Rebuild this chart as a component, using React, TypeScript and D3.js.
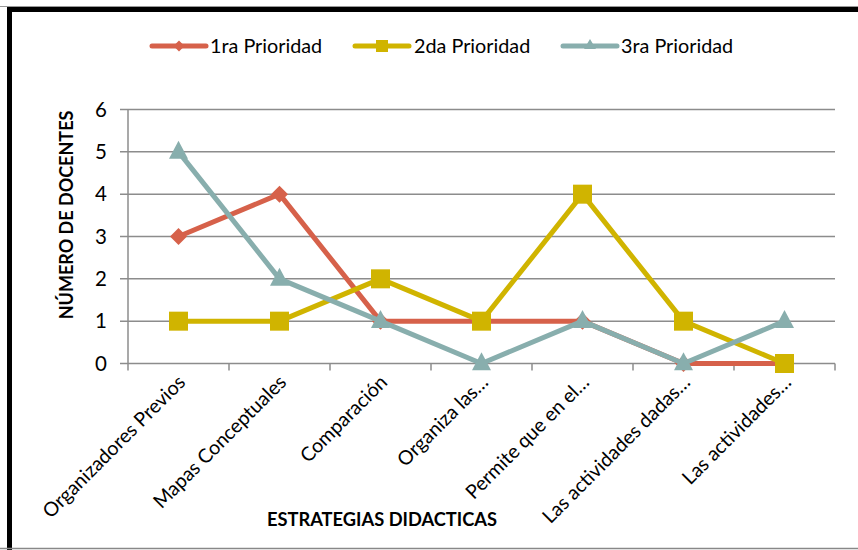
import React from "react";
import * as d3 from "d3";

const categories = [
  "Organizadores Previos",
  "Mapas Conceptuales",
  "Comparación",
  "Organiza las…",
  "Permite que en el…",
  "Las actividades dadas…",
  "Las actividades…",
];
const serie1 = [3, 4, 1, 1, 1, 0, 0];
const serie2 = [1, 1, 2, 1, 4, 1, 0];
const serie3 = [5, 2, 1, 0, 1, 0, 1];
const seriesNames = ["1ra Prioridad", "2da Prioridad", "3ra Prioridad"];
const yTicks = [0, 1, 2, 3, 4, 5, 6];

const colors = ["#D6614A", "#D0B400", "#88AEAD"];
const markers = ["diamond", "square", "triangle"];
const FONT = "Lato, 'Open Sans', sans-serif";

function Marker({ type, x, y, color }: { type: string; x: number; y: number; color: string }) {
  if (type === "diamond") {
    const s = 8.5;
    return <path d={`M${x},${y - s}L${x + s},${y}L${x},${y + s}L${x - s},${y}Z`} fill={color} />;
  }
  if (type === "square") {
    const s = 9.5;
    return <rect x={x - s} y={y - s} width={2 * s} height={2 * s} fill={color} />;
  }
  const h = 18;
  const w = 19;
  return <path d={`M${x},${y - h * 0.62}L${x + w / 2},${y + h * 0.38}L${x - w / 2},${y + h * 0.38}Z`} fill={color} />;
}

function LegendMarker({ type, x, y, color }: { type: string; x: number; y: number; color: string }) {
  if (type === "diamond") {
    const s = 5.5;
    return <path d={`M${x},${y - s}L${x + s},${y}L${x},${y + s}L${x - s},${y}Z`} fill={color} />;
  }
  if (type === "square") {
    const s = 6;
    return <rect x={x - s} y={y - s} width={2 * s} height={2 * s} fill={color} />;
  }
  return <path d={`M${x},${y - 7}L${x + 6},${y + 3}L${x - 6},${y + 3}Z`} fill={color} />;
}

export default function App() {
  const W = 858;
  const H = 550;
  const left = 128;
  const right = 835;
  const top = 109.5;
  const bottom = 363.5;

  const x = d3.scaleBand<string>().domain(categories).range([left, right]).padding(0);
  const y = d3.scaleLinear().domain([0, 6]).range([bottom, top]);
  const cx = (c: string) => (x(c) as number) + x.bandwidth() / 2;

  const allSeries = [serie1, serie2, serie3];
  const line = d3
    .line<number>()
    .x((_, i) => cx(categories[i]))
    .y((d) => y(d));

  const legendItems = [
    { lx: 152, tx: 210 },
    { lx: 355, tx: 414 },
    { lx: 563, tx: 621 },
  ];

  const tickXs = d3.range(categories.length + 1).map((i) => left + i * x.bandwidth());

  return (
    <svg width={W} height={H} style={{ position: "absolute", left: 0, top: 0 }} fontFamily={FONT}>
      <rect x={0} y={0} width={W} height={H} fill="#fff" />
      {/* frame */}
      <line x1={0} y1={6.5} x2={W} y2={6.5} stroke="#999" strokeWidth={1} />
      <rect x={7} y={7} width={W - 7} height={5} fill="#000" />
      <rect x={7} y={7} width={5} height={H - 7} fill="#000" />
      <line x1={0} y1={548.5} x2={W} y2={548.5} stroke="#888" strokeWidth={1.5} />

      {/* legend */}
      {seriesNames.map((n, i) => (
        <g key={n}>
          <line
            x1={legendItems[i].lx}
            x2={legendItems[i].lx + 54}
            y1={46}
            y2={46}
            stroke={colors[i]}
            strokeWidth={5}
            strokeLinecap="round"
          />
          <LegendMarker type={markers[i]} x={legendItems[i].lx + 27} y={46} color={colors[i]} />
          <text x={legendItems[i].tx} y={52.5} fontSize={19.8} fill="#000">
            {n}
          </text>
        </g>
      ))}

      {/* gridlines */}
      {yTicks.map((t) => (
        <g key={t}>
          <line x1={left - 8} x2={right} y1={y(t)} y2={y(t)} stroke="#8c8c8c" strokeWidth={1.5} />
          <text x={107} y={y(t) + 7} fontSize={20.5} textAnchor="end" fill="#000">
            {t}
          </text>
        </g>
      ))}
      {/* axes */}
      <line x1={left} x2={left} y1={top} y2={bottom} stroke="#8c8c8c" strokeWidth={1.5} />
      {tickXs.map((tx, i) => (
        <line key={i} x1={tx} x2={tx} y1={bottom} y2={bottom + 7} stroke="#8c8c8c" strokeWidth={1.5} />
      ))}

      {/* category labels */}
      {categories.map((c) => (
        <text
          key={c}
          transform={`translate(${cx(c) + 8},${bottom + 20}) rotate(-45)`}
          textAnchor="end"
          fontSize={19.6}
          fill="#000"
        >
          {c}
        </text>
      ))}

      {/* axis titles */}
      <text x={382} y={526} textAnchor="middle" fontSize={18.3} fontWeight="bold" fill="#000">
        ESTRATEGIAS DIDACTICAS
      </text>
      <text
        transform={`translate(73,215) rotate(-90)`}
        textAnchor="middle"
        fontSize={18}
        fontWeight="bold"
        fill="#000"
      >
        NÚMERO DE DOCENTES
      </text>

      {/* series */}
      {allSeries.map((s, si) => (
        <g key={si}>
          <path d={line(s) || ""} fill="none" stroke={colors[si]} strokeWidth={5} strokeLinejoin="round" />
          {s.map((v, i) => (
            <Marker key={i} type={markers[si]} x={cx(categories[i])} y={y(v)} color={colors[si]} />
          ))}
        </g>
      ))}
    </svg>
  );
}
